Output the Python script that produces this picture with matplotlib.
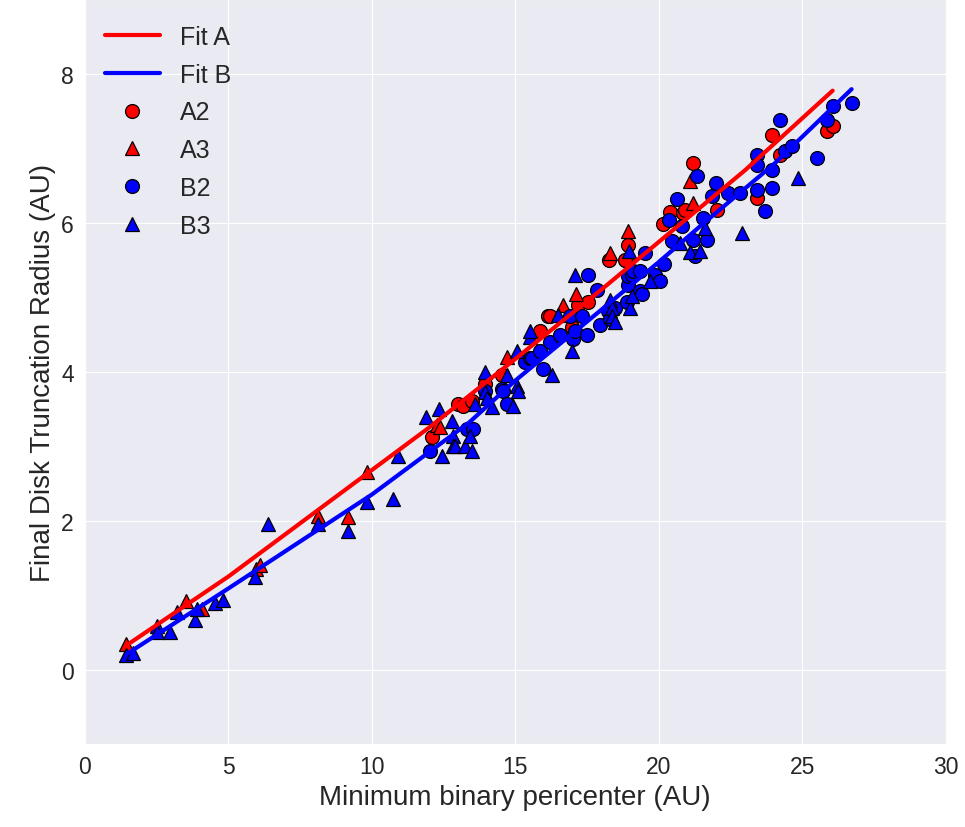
import matplotlib
matplotlib.use("Agg")
import matplotlib.pyplot as plt
import seaborn as sns

# fit curves
fit_a_x = [1.5, 5, 9.83, 12, 15, 18, 20, 23, 26.06]
fit_a_y = [0.34, 1.25, 2.63, 3.25, 4.17, 5.1, 5.74, 6.7, 7.77]
fit_b_x = [1.5, 5, 10, 13.4, 15, 18, 20, 21.5, 24, 26.72]
fit_b_y = [0.22, 1.09, 2.35, 3.32, 3.88, 4.83, 5.47, 5.97, 6.78, 7.79]

# A2: red circles
a2_x = [12.09, 13.0, 13.17, 13.48, 13.94, 14.53, 15.85, 16.13, 16.2, 17.18,
        17.53, 16.97, 18.26, 18.89, 18.82, 18.92, 20.14, 20.38, 20.84, 20.91,
        21.18, 22.02, 23.41, 23.94, 24.22, 25.85, 26.06]
a2_y = [3.12, 3.57, 3.54, 3.61, 3.84, 3.95, 4.54, 4.74, 4.74, 4.89,
        4.94, 4.6, 5.5, 5.48, 5.5, 5.7, 5.98, 6.14, 6.13, 6.17,
        6.8, 6.17, 6.33, 7.18, 6.9, 7.23, 7.3]

# A3: red triangles
a3_x = [1.43, 3.52, 4.08, 5.96, 6.1, 8.12, 9.16, 9.83, 12.26, 12.37,
        14.72, 16.66, 17.11, 18.29, 18.92, 21.08, 21.18]
a3_y = [0.34, 0.92, 0.81, 1.35, 1.41, 2.06, 2.05, 2.65, 3.28, 3.26,
        4.19, 4.89, 5.04, 5.59, 5.89, 6.56, 6.26]

# B2: blue circles
b2_x = [12.02, 13.31, 13.52, 13.94, 14.53, 14.56, 14.7, 15.33, 15.51, 15.57,
        15.85, 15.96, 16.2, 16.55, 16.9, 17.0, 17.07, 17.32, 17.49, 17.53,
        17.84, 17.94, 18.22, 18.29, 18.47, 18.89, 18.92, 18.92, 19.06, 19.1,
        19.34, 19.34, 19.41, 19.51, 19.86, 20.03, 20.17, 20.35, 20.45, 20.63,
        20.8, 21.18, 21.25, 21.32, 21.53, 21.67, 21.85, 22.0, 22.4, 22.82,
        23.41, 23.41, 23.41, 23.69, 23.94, 23.94, 24.22, 24.39, 24.63, 25.51,
        25.85, 26.06, 26.72]
b2_y = [2.94, 3.23, 3.23, 3.74, 3.77, 3.74, 3.57, 4.13, 4.18, 4.18,
        4.28, 4.04, 4.4, 4.49, 4.74, 4.44, 4.54, 4.75, 4.49, 5.29,
        5.09, 4.62, 4.81, 4.71, 4.85, 4.94, 5.16, 5.28, 5.29, 5.35,
        5.35, 5.08, 5.04, 5.59, 5.29, 5.21, 5.45, 6.03, 5.75, 6.32,
        5.95, 5.76, 5.55, 6.63, 6.06, 5.76, 6.36, 6.53, 6.4, 6.4,
        6.91, 6.77, 6.44, 6.15, 6.71, 6.46, 7.38, 6.96, 7.03, 6.87,
        7.37, 7.57, 7.61]

# B3: blue triangles
b3_x = [1.43, 1.67, 2.51, 2.51, 2.96, 3.21, 3.83, 3.9, 4.53, 4.81,
        5.92, 6.38, 8.12, 9.16, 9.83, 10.73, 10.91, 11.88, 12.33, 12.44,
        12.79, 12.82, 12.82, 12.89, 13.24, 13.41, 13.48, 13.59, 13.94, 13.94,
        14.01, 14.18, 14.7, 14.91, 15.05, 15.05, 15.09, 15.5, 15.51, 16.27,
        16.48, 16.97, 17.07, 18.29, 18.36, 18.36, 18.47, 18.95, 18.99, 19.06,
        19.69, 20.73, 21.08, 21.43, 21.6, 22.89, 24.84]
b3_y = [0.2, 0.22, 0.58, 0.5, 0.5, 0.77, 0.67, 0.81, 0.9, 0.94,
        1.25, 1.95, 1.95, 1.86, 2.25, 2.29, 2.87, 3.39, 3.5, 2.87,
        3.34, 3.14, 3.0, 3.0, 3.0, 3.14, 2.94, 3.57, 4.0, 3.73,
        3.64, 3.53, 3.95, 3.54, 4.27, 3.81, 3.74, 4.47, 4.54, 3.95,
        4.76, 4.27, 5.29, 4.96, 4.85, 4.75, 4.67, 5.62, 4.85, 5.01,
        5.21, 5.72, 5.6, 5.62, 5.93, 5.86, 6.6]

sns.set_style("darkgrid", {"grid.linewidth": 1.6})
plt.rcParams["font.family"] = ["Liberation Sans", "DejaVu Sans"]

fig = plt.figure(figsize=(9.65, 8.28), dpi=100)
ax = fig.add_axes([0.088, 0.1, 0.892, 0.9])

mk = dict(linestyle="none", markersize=10, markeredgecolor="black", markeredgewidth=0.9)
h_a2, = ax.plot(a2_x, a2_y, marker="o", color="red", label="A2", zorder=2, **mk)
h_a3, = ax.plot(a3_x, a3_y, marker="^", color="red", label="A3", zorder=2, **mk)
h_b2, = ax.plot(b2_x, b2_y, marker="o", color="blue", label="B2", zorder=2, **mk)
h_b3, = ax.plot(b3_x, b3_y, marker="^", color="blue", label="B3", zorder=2, **mk)
h_fa, = ax.plot(fit_a_x, fit_a_y, color="red", lw=3, label="Fit A", zorder=3)
h_fb, = ax.plot(fit_b_x, fit_b_y, color="blue", lw=3, label="Fit B", zorder=3)

ax.set_xlim(0, 30)
ax.set_ylim(-1, 9)
ax.set_xticks([0, 5, 10, 15, 20, 25, 30])
ax.set_yticks([0, 2, 4, 6, 8])
ax.tick_params(labelsize=16.5, colors="#262626", length=0, pad=8)
ax.set_xlabel("Minimum binary pericenter (AU)", fontsize=20, color="#262626")
ax.set_ylabel("Final Disk Truncation Radius (AU)", fontsize=20, color="#262626")

ax.legend(handles=[h_fa, h_fb, h_a2, h_a3, h_b2, h_b3], loc="upper left",
          bbox_to_anchor=(0, 0.992), fontsize=18, frameon=False, numpoints=1,
          handlelength=2.2, borderaxespad=0.4, labelspacing=0.55)

fig.savefig("out.png", dpi=100)
